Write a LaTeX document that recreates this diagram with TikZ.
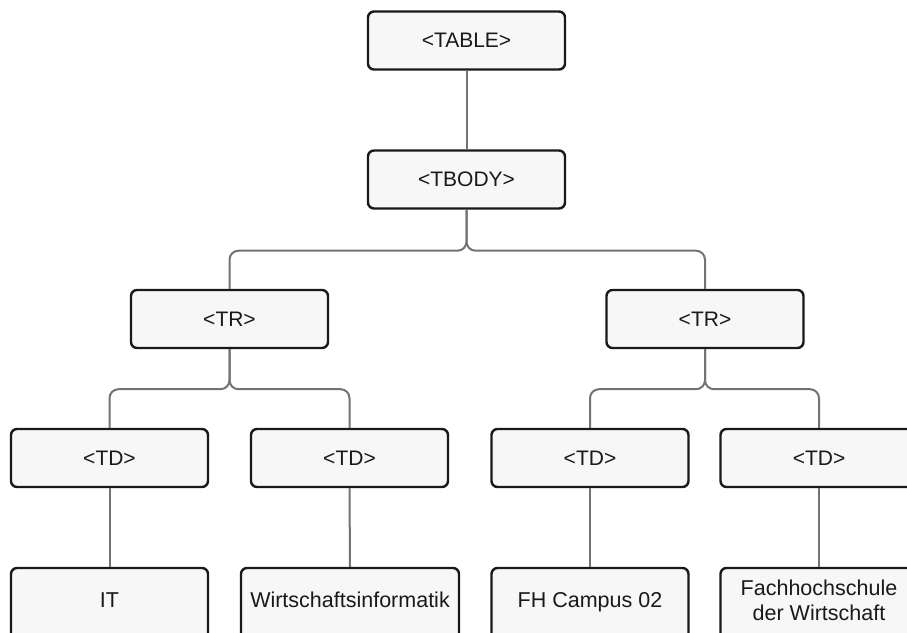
\documentclass[tikz,border=0pt]{standalone}
\usepackage{fontspec}
\setmainfont{Liberation Sans}
\tikzset{
  box/.style={draw=black!90, line width=2.4pt, fill=black!3, rounded corners=6pt,
    minimum width=197pt, minimum height=58pt, inner sep=0pt, align=center, text=black!90},
  tagA/.style={box, font=\fontsize{21}{24}\selectfont},
  leaf/.style={box, minimum height=76pt, text depth=12pt, font=\fontsize{21.5}{25}\selectfont},
  conn/.style={draw=black!55, line width=2pt, rounded corners=9pt}
}
\begin{document}
\begin{tikzpicture}[x=1pt,y=-1pt]
\useasboundingbox (0,0) rectangle (907,632);
\clip (0,0) rectangle (907,632);
\fill[white] (0,0) rectangle (907,632);
\node[tagA] (table) at (466.5,40.5) {<TABLE>};
\node[tagA] (tbody) at (466.5,179.5) {<TBODY>};
\node[tagA] (tr1) at (229.5,319) {<TR>};
\node[tagA] (tr2) at (705,319) {<TR>};
\node[tagA] (td1) at (109.5,458) {<TD>};
\node[tagA] (td2) at (349.5,458) {<TD>};
\node[tagA] (td3) at (590,458) {<TD>};
\node[tagA] (td4) at (819,458) {<TD>};
\node[leaf] (l1) at (109.5,606) {IT};
\node[leaf, minimum width=218pt] (l2) at (350,606) {Wirtschaftsinformatik};
\node[leaf] (l3) at (590,606) {FH Campus 02};
\node[leaf] (l4) at (819,606) {Fachhochschule\\der Wirtschaft};
\draw[conn] (table.south) -- (tbody.north);
\draw[conn] (tbody.south) -- ++(0,41) -| (tr1.north);
\draw[conn] (tbody.south) -- ++(0,41) -| (tr2.north);
\draw[conn] (tr1.south) -- ++(0,40) -| (td1.north);
\draw[conn] (tr1.south) -- ++(0,40) -| (td2.north);
\draw[conn] (tr2.south) -- ++(0,40) -| (td3.north);
\draw[conn] (tr2.south) -- ++(0,40) -| (td4.north);
\draw[conn] (td1.south) -- (l1.north);
\draw[conn] (td2.south) -- (l2.north);
\draw[conn] (td3.south) -- (l3.north);
\draw[conn] (td4.south) -- (l4.north);
\end{tikzpicture}
\end{document}
